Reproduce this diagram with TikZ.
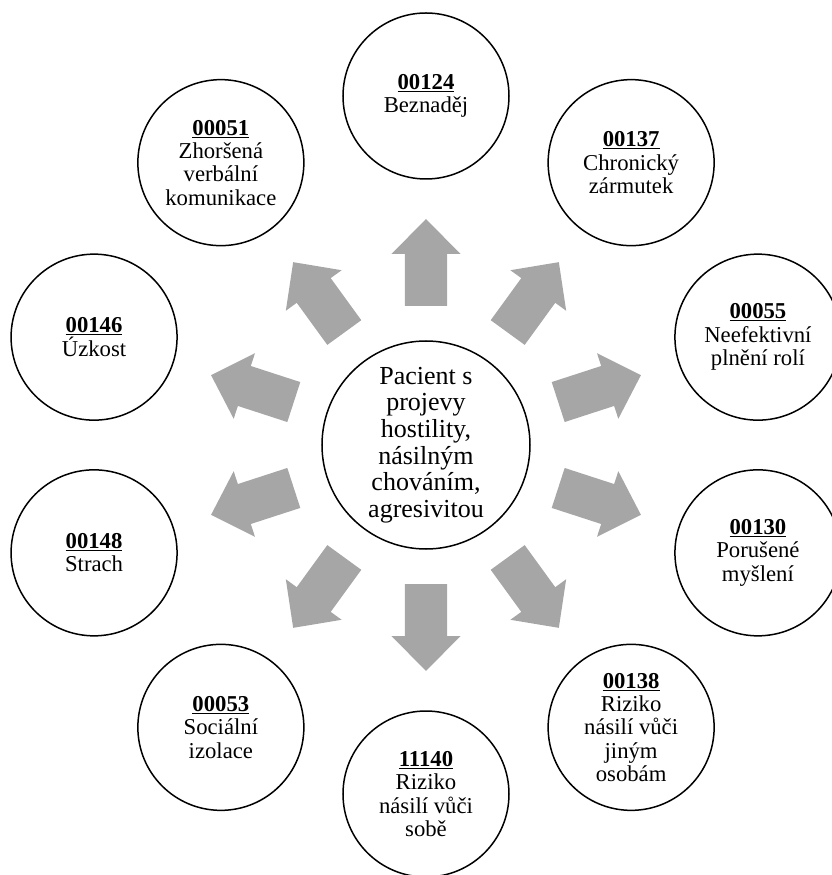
\documentclass[tikz,border=0pt]{standalone}
\usepackage{fontspec}
\setmainfont{Liberation Serif}
\usepackage{xcolor}
\definecolor{arrowgray}{HTML}{A6A6A6}
\newcommand{\kod}[1]{\underline{\textbf{#1}}}

\begin{document}
\begin{tikzpicture}[x=1pt,y=1pt,
    diagnosis/.style={draw,circle,line width=1.5pt,minimum size=166pt,inner sep=0pt,align=center,fill=white,font=\fontsize{22.7}{23.3}\selectfont},
    patient/.style={draw,circle,line width=1.5pt,minimum size=208pt,inner sep=0pt,align=center,fill=white,font=\fontsize{26}{26.7}\selectfont},
    blockarrow/.style={fill=arrowgray}
]
    \useasboundingbox (-426,-430) rectangle (405,445);
    % Middle: the patient
    \node[patient] (pacient) at (0,0) {
        Pacient s\\ projevy\\ hostility,\\ násilným\\ chováním,\\ agresivitou
    };
    % Ring of diagnoses
    \node[diagnosis] (beznadej) at (90:349) {
        \kod{00124}\\ Beznaděj
    };
    \node[diagnosis] (zarmutek) at (54:349) {
        \kod{00137}\\ Chronický\\ zármutek
    };
    \node[diagnosis] (role) at (18:349) {
        \kod{00055}\\ Neefektivní\\ plnění rolí
    };
    \node[diagnosis] (mysleni) at (-18:349) {
        \kod{00130}\\ Porušené\\ myšlení
    };
    \node[diagnosis] (nasiliJini) at (-54:349) {
        \kod{00138}\\ Riziko\\ násilí vůči\\ jiným\\ osobám
    };
    \node[diagnosis] (nasiliSobe) at (-90:349) {
        \kod{11140}\\ Riziko\\ násilí vůči\\ sobě
    };
    \node[diagnosis] (izolace) at (-126:349) {
        \kod{00053}\\ Sociální\\ izolace
    };
    \node[diagnosis] (strach) at (-162:349) {
        \kod{00148}\\ Strach
    };
    \node[diagnosis] (uzkost) at (162:349) {
        \kod{00146}\\ Úzkost
    };
    \node[diagnosis] (komunikace) at (126:349) {
        \kod{00051}\\ Zhoršená\\ verbální\\ komunikace
    };
    % Block arrows
    \fill[blockarrow,rotate=90] (139,-21) -- (191,-21) -- (191,-34.5) -- (226,0) -- (191,34.5) -- (191,21) -- (139,21) -- cycle;
    \fill[blockarrow,rotate=54] (139,-21) -- (191,-21) -- (191,-34.5) -- (226,0) -- (191,34.5) -- (191,21) -- (139,21) -- cycle;
    \fill[blockarrow,rotate=18] (139,-21) -- (191,-21) -- (191,-34.5) -- (226,0) -- (191,34.5) -- (191,21) -- (139,21) -- cycle;
    \fill[blockarrow,rotate=-18] (139,-21) -- (191,-21) -- (191,-34.5) -- (226,0) -- (191,34.5) -- (191,21) -- (139,21) -- cycle;
    \fill[blockarrow,rotate=-54] (139,-21) -- (191,-21) -- (191,-34.5) -- (226,0) -- (191,34.5) -- (191,21) -- (139,21) -- cycle;
    \fill[blockarrow,rotate=-90] (139,-21) -- (191,-21) -- (191,-34.5) -- (226,0) -- (191,34.5) -- (191,21) -- (139,21) -- cycle;
    \fill[blockarrow,rotate=-126] (139,-21) -- (191,-21) -- (191,-34.5) -- (226,0) -- (191,34.5) -- (191,21) -- (139,21) -- cycle;
    \fill[blockarrow,rotate=-162] (139,-21) -- (191,-21) -- (191,-34.5) -- (226,0) -- (191,34.5) -- (191,21) -- (139,21) -- cycle;
    \fill[blockarrow,rotate=162] (139,-21) -- (191,-21) -- (191,-34.5) -- (226,0) -- (191,34.5) -- (191,21) -- (139,21) -- cycle;
    \fill[blockarrow,rotate=126] (139,-21) -- (191,-21) -- (191,-34.5) -- (226,0) -- (191,34.5) -- (191,21) -- (139,21) -- cycle;
\end{tikzpicture}
\end{document}
